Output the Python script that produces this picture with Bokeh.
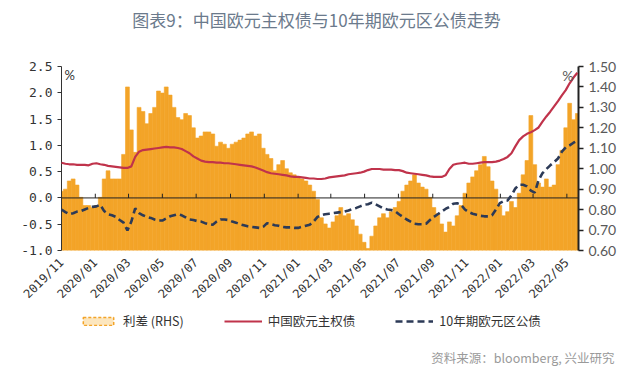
import math
import pandas as pd
from bokeh.plotting import figure
from bokeh.layouts import column
from bokeh.models import (Range1d, LinearAxis, FixedTicker, DatetimeTickFormatter, Span, Label,
                          Legend, LegendItem, ColumnDataSource, NumeralTickFormatter)
from bokeh.embed import file_html
from bokeh.resources import INLINE

TITLE = "图表9：中国欧元主权债与10年期欧元区公债走势"
SOURCE_NOTE = "资料来源：bloomberg, 兴业研究"
SERIES_NAMES = ["利差 (RHS)", "中国欧元主权债", "10年期欧元区公债"]
TICK_LABELS = ["2019/11", "2020/01", "2020/03", "2020/05", "2020/07", "2020/09", "2020/11",
               "2021/01", "2021/03", "2021/05", "2021/07", "2021/09", "2021/11",
               "2022/01", "2022/03", "2022/05"]
LEFT_TICKS = [-1.0, -0.5, 0.0, 0.5, 1.0, 1.5, 2.0, 2.5]
RIGHT_TICKS = [0.6, 0.7, 0.8, 0.9, 1.0, 1.1, 1.2, 1.3, 1.4, 1.5]
START = "2019-11-01"

# weekly readings
SPREAD = [0.89, 0.90, 0.94, 0.95, 0.92, 0.86, 0.82, 0.82, 0.81, 0.82,
          0.86, 0.95, 0.99, 0.95, 0.95, 0.95, 1.07, 1.40, 1.19, 1.08,
          1.30, 1.28, 1.22, 1.27, 1.30, 1.38, 1.37, 1.40, 1.36, 1.30,
          1.25, 1.24, 1.27, 1.26, 1.20, 1.15, 1.16, 1.18, 1.18, 1.17,
          1.11, 1.13, 1.12, 1.10, 1.12, 1.13, 1.14, 1.15, 1.17, 1.18,
          1.16, 1.17, 1.10, 1.07, 1.05, 0.99, 1.02, 1.04, 1.00, 0.98,
          0.97, 0.96, 0.95, 0.94, 0.92, 0.89, 0.85, 0.76, 0.73, 0.71,
          0.74, 0.77, 0.81, 0.77, 0.78, 0.75, 0.72, 0.68, 0.64, 0.61,
          0.67, 0.72, 0.76, 0.78, 0.76, 0.79, 0.81, 0.84, 0.89, 0.92,
          0.94, 0.97, 0.93, 0.91, 0.90, 0.86, 0.81, 0.78, 0.73, 0.69,
          0.74, 0.72, 0.77, 0.82, 0.88, 0.93, 0.96, 0.99, 1.02, 1.06,
          1.01, 0.94, 0.90, 0.82, 0.77, 0.79, 0.84, 0.81, 0.88, 0.97,
          1.04, 1.26, 1.02, 0.93, 0.91, 0.95, 0.91, 0.92, 1.02, 1.09,
          1.20, 1.32, 1.24, 1.27]

CN_EUR_SOV = [0.67, 0.65, 0.64, 0.64, 0.63, 0.63, 0.63, 0.62, 0.65, 0.66,
              0.64, 0.63, 0.61, 0.60, 0.59, 0.58, 0.57, 0.57, 0.60, 0.78,
              0.88, 0.91, 0.92, 0.93, 0.94, 0.95, 0.96, 0.97, 0.96, 0.96,
              0.95, 0.93, 0.89, 0.85, 0.79, 0.75, 0.71, 0.69, 0.68, 0.68,
              0.67, 0.67, 0.66, 0.66, 0.65, 0.64, 0.63, 0.62, 0.61, 0.60,
              0.58, 0.55, 0.52, 0.49, 0.47, 0.46, 0.45, 0.44, 0.43, 0.41,
              0.40, 0.40, 0.39, 0.38, 0.37, 0.37, 0.36, 0.36, 0.37, 0.39,
              0.40, 0.41, 0.42, 0.43, 0.45, 0.46, 0.47, 0.48, 0.50, 0.53,
              0.55, 0.55, 0.55, 0.54, 0.54, 0.54, 0.53, 0.53, 0.51, 0.48,
              0.47, 0.46, 0.45, 0.44, 0.43, 0.41, 0.40, 0.40, 0.40, 0.43,
              0.55, 0.63, 0.65, 0.66, 0.67, 0.65, 0.65, 0.66, 0.67, 0.68,
              0.68, 0.68, 0.69, 0.71, 0.74, 0.78, 0.85, 0.98, 1.10, 1.17,
              1.22, 1.25, 1.29, 1.34, 1.45, 1.55, 1.64, 1.74, 1.84, 1.95,
              2.05, 2.18, 2.29, 2.38]

EZ_10Y = [-0.22, -0.27, -0.31, -0.29, -0.26, -0.25, -0.22, -0.19, -0.17, -0.16,
          -0.13, -0.25, -0.31, -0.33, -0.36, -0.42, -0.47, -0.62, -0.45, -0.20,
          -0.29, -0.33, -0.36, -0.38, -0.41, -0.43, -0.43, -0.39, -0.35, -0.33,
          -0.31, -0.33, -0.37, -0.41, -0.42, -0.44, -0.45, -0.48, -0.50, -0.51,
          -0.45, -0.41, -0.41, -0.42, -0.45, -0.47, -0.50, -0.52, -0.54, -0.55,
          -0.56, -0.57, -0.55, -0.48, -0.50, -0.52, -0.53, -0.55, -0.56, -0.56,
          -0.57, -0.57, -0.55, -0.53, -0.51, -0.45, -0.36, -0.33, -0.31, -0.30,
          -0.29, -0.28, -0.27, -0.26, -0.24, -0.21, -0.19, -0.16, -0.13, -0.12,
          -0.09, -0.12, -0.16, -0.20, -0.22, -0.23, -0.25, -0.31, -0.36, -0.41,
          -0.45, -0.49, -0.50, -0.50, -0.49, -0.42, -0.36, -0.31, -0.26, -0.21,
          -0.17, -0.11, -0.10, -0.13, -0.22, -0.27, -0.30, -0.32, -0.34, -0.35,
          -0.35, -0.33, -0.22, -0.10, -0.06, -0.05, 0.05, 0.18, 0.25, 0.25,
          0.22, 0.14, 0.10, 0.34, 0.47, 0.55, 0.62, 0.68, 0.75, 0.88,
          0.96, 1.00, 1.05, 1.09]

ORANGE = "#F3A428"
RED = "#C0334B"
NAVY = "#2C3A57"
CJK = "Noto Sans CJK SC"
MONO = "DejaVu Sans Mono"
W = 640
HEAD_H, MAIN_H, FOOT_H = 40, 272, 68


def strip(height):
    f = figure(width=W, height=height, x_range=Range1d(0, W), y_range=Range1d(0, height),
               output_backend="svg", toolbar_location=None, min_border=0,
               x_axis_location=None, y_axis_location=None, frame_align=False)
    f.outline_line_color = None
    f.xgrid.visible = False
    f.ygrid.visible = False
    f.background_fill_color = "white"
    f.border_fill_color = "white"
    return f


# ---- title strip
head = strip(HEAD_H)
head.add_layout(Label(x=316, y=HEAD_H - 19, text=TITLE, text_align="center",
                      text_baseline="middle", text_font=CJK, text_font_size="17px",
                      text_color="#6b7a8c"))

# ---- main chart
dates = pd.date_range(START, periods=len(SPREAD), freq="7D")
tick_ms = [pd.Timestamp(pd.to_datetime(t, format="%Y/%m")).value // 10**6 for t in TICK_LABELS]
week_ms = 7 * 24 * 3600 * 1000

src = ColumnDataSource(dict(date=dates, spread=SPREAD, cn=CN_EUR_SOV, ez=EZ_10Y))

x_start = dates[0].to_pydatetime()
x_end = (dates[-1] + pd.Timedelta(days=2)).to_pydatetime()

p = figure(width=W, height=MAIN_H, x_axis_type="datetime",
           x_range=Range1d(x_start, x_end), y_range=Range1d(LEFT_TICKS[0], LEFT_TICKS[-1]),
           output_backend="svg", toolbar_location=None, frame_align=False,
           min_border_left=61, min_border_right=62, min_border_top=26, min_border_bottom=62)
p.extra_y_ranges = {"rhs": Range1d(RIGHT_TICKS[0], RIGHT_TICKS[-1])}
p.outline_line_color = None
p.xgrid.visible = False
p.ygrid.visible = False
p.background_fill_color = "white"
p.border_fill_color = "white"

p.vbar(x="date", top="spread", bottom=RIGHT_TICKS[0], width=week_ms, source=src,
       y_range_name="rhs", fill_color=ORANGE, line_color=ORANGE, line_width=0.6)

p.add_layout(Span(location=0, dimension="width", line_color="#222222", line_width=1,
                  level="guide"))
p.segment(x0=tick_ms, y0=[0] * len(tick_ms), x1=tick_ms, y1=[0.08] * len(tick_ms),
          line_color="#222222", line_width=1, level="guide")

p.line("date", "cn", source=src, line_color=RED, line_width=2.2, level="annotation")
p.line("date", "ez", source=src, line_color=NAVY, line_width=2.6, line_dash="7 4",
       level="annotation")

ly = p.yaxis[0]
ly.ticker = FixedTicker(ticks=LEFT_TICKS)
ly.formatter = NumeralTickFormatter(format="0.0")
ly.major_label_text_font = MONO
ly.major_label_text_font_size = "13px"
ly.major_label_text_color = "#333333"
ly.axis_line_color = "#333333"
ly.major_tick_line_color = "#333333"
ly.major_tick_out = 4
ly.major_tick_in = 0
ly.minor_tick_line_color = None

ry = LinearAxis(y_range_name="rhs", ticker=FixedTicker(ticks=RIGHT_TICKS),
                formatter=NumeralTickFormatter(format="0.00"))
ry.major_label_text_font = "Lato"
ry.major_label_text_font_size = "14px"
ry.major_label_text_color = "#595959"
ry.axis_line_color = "#222222"
ry.axis_line_width = 2
ry.major_tick_line_color = "#222222"
ry.major_tick_line_width = 1.5
ry.major_tick_out = 5
ry.major_tick_in = 0
ry.minor_tick_line_color = None
p.add_layout(ry, "right")

xa = p.xaxis[0]
xa.ticker = FixedTicker(ticks=tick_ms)
xa.formatter = DatetimeTickFormatter(days="%Y/%m", months="%Y/%m", years="%Y/%m")
xa.major_label_orientation = math.pi / 4
xa.axis_line_color = None
xa.major_tick_line_color = None
xa.minor_tick_line_color = None
xa.major_label_text_font = MONO
xa.major_label_text_font_size = "12px"
xa.major_label_text_color = "#333333"
xa.major_label_standoff = 4

p.add_layout(Label(x=x_start, y=LEFT_TICKS[-1], text="%", x_offset=3, text_baseline="top",
                   text_font="Lato", text_font_size="13px", text_color="#333333"))
p.add_layout(Label(x=x_end, y=LEFT_TICKS[-1], text="%", x_offset=-5, text_align="right",
                   text_baseline="top", text_font="Lato", text_font_size="14px",
                   text_color="#595959"))

# ---- legend + source strip (legend proxies sit outside the visible strip range)
foot = strip(FOOT_H)
sw_spread = foot.vbar(x=[-100], top=[-100], bottom=-101, width=1, fill_color="#FCE6BE",
                      line_color=ORANGE, line_dash="3 2", line_width=1.5)
sw_cn = foot.line(x=[-100, -90], y=[-100, -100], line_color=RED, line_width=2.2)
sw_ez = foot.line(x=[-100, -90], y=[-100, -100], line_color=NAVY, line_width=2.6,
                  line_dash="7 4")
legend = Legend(items=[LegendItem(label=SERIES_NAMES[0], renderers=[sw_spread]),
                       LegendItem(label=SERIES_NAMES[1], renderers=[sw_cn]),
                       LegendItem(label=SERIES_NAMES[2], renderers=[sw_ez])],
                orientation="horizontal", location=(79, 50))
legend.border_line_color = None
legend.background_fill_alpha = 0
legend.glyph_width = 38
legend.glyph_height = 10
legend.label_standoff = 6
legend.spacing = 40
legend.padding = 0
legend.margin = 0
legend.label_text_font = CJK
legend.label_text_font_size = "12.5px"
legend.label_text_color = "#333333"
foot.add_layout(legend)
foot.add_layout(Label(x=614, y=23, text=SOURCE_NOTE, text_align="right",
                      text_baseline="middle", text_font=CJK, text_font_size="12.5px",
                      text_color="#9a9a9a"))

layout = column(head, p, foot, spacing=0)
open("out.html", "w").write(file_html(layout, INLINE))
